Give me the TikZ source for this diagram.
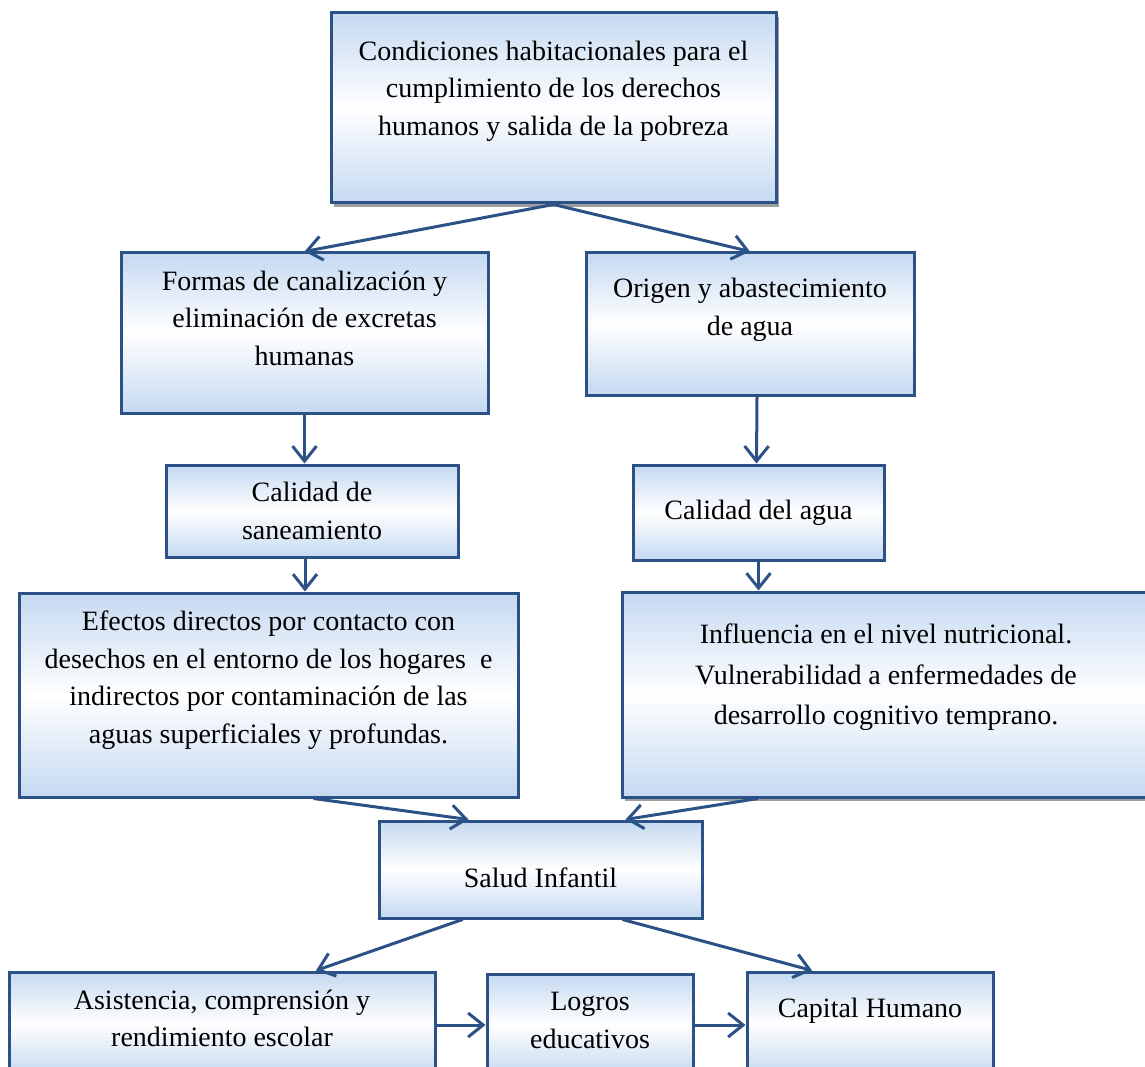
\documentclass[tikz,border=0pt]{standalone}
\usepackage{fontspec}
\setmainfont{Liberation Serif}
\usetikzlibrary{arrows.meta,shadows}
\definecolor{boxline}{HTML}{2C5186}
\definecolor{boxfill}{HTML}{C5D9F1}

\tikzset{
	box/.style={draw=boxline, line width=3pt, top color=boxfill, bottom color=boxfill, middle color=white, inner sep=0pt},
	boxshadow/.style={drop shadow={shadow xshift=3pt, shadow yshift=-4pt, fill=gray!75, opacity=1}},
	txt/.style={align=center, font=\fontsize{28}{37.5}\selectfont},
	link/.style={draw=boxline, line width=3pt, -{Straight Barb[length=15pt,width=24pt,line width=3pt]}},
}

\begin{document}
\begin{tikzpicture}[x=1pt, y=-1pt]
		%%%%% START %%%%%
		\useasboundingbox (0,0) rectangle (1145,1067);
		
		\node[box, boxshadow, minimum width=445pt, minimum height=190pt, label={[txt, yshift=17pt]center:{Condiciones habitacionales para el\\cumplimiento de los derechos\\humanos y salida de la pobreza}}] (cond) at (553.5,108) {};
		
		\node[box, minimum width=367pt, minimum height=160pt, label={[txt, yshift=15pt]center:{Formas de canalización y\\eliminación de excretas\\humanas}}] (formas) at (304.5,333) {};
		\node[box, minimum width=328pt, minimum height=142pt, label={[txt, yshift=14pt]center:{Origen y abastecimiento\\de agua}}] (origen) at (750,324) {};
		
		\node[box, minimum width=292pt, minimum height=92pt, label={[txt]center:{Calidad de\\saneamiento}}] (calsan) at (312,511) {};
		\node[box, minimum width=251pt, minimum height=95pt, label={[txt]center:{Calidad del agua}}] (calagua) at (758.5,512.5) {};
		
		\node[box, minimum width=499pt, minimum height=204pt, label={[txt, yshift=15pt]center:{Efectos directos por contacto con\\desechos en el entorno de los hogares~ e\\indirectos por contaminación de las\\aguas superficiales y profundas.}}] (efectos) at (268.5,695) {};
		\node[box, boxshadow, minimum width=528pt, minimum height=205pt, label={[txt, yshift=17pt, font=\fontsize{28}{40.5}\selectfont]center:{Influencia en el nivel nutricional.\\Vulnerabilidad a enfermedades de\\desarrollo cognitivo temprano.}}] (influ) at (886,694.5) {};
		
		\node[box, minimum width=323pt, minimum height=97pt, label={[txt, yshift=-8pt]center:{Salud Infantil}}] (salud) at (540.5,869.5) {};
		
		\node[box, minimum width=426pt, minimum height=103pt, label={[txt, yshift=5pt]center:{Asistencia, comprensión y\\rendimiento escolar}}] (asist) at (222,1023.5) {};
		\node[box, minimum width=206pt, minimum height=101pt, label={[txt, yshift=4pt]center:{Logros\\educativos}}] (logros) at (590,1024.5) {};
		\node[box, minimum width=246pt, minimum height=103pt, label={[txt, yshift=13pt]center:{Capital Humano}}] (capital) at (870,1023.5) {};
		
		\draw[link] (cond.south) -- (formas.north);
		\draw[link] (cond.south) -- (origen.north);
		
		\draw[link] (formas.south) -- (formas.south |- calsan.north);
		\draw[link] ([xshift=7pt]origen.south) -- ([xshift=-2pt]calagua.north);
		
		\draw[link] ([xshift=-7pt]calsan.south) -- ([xshift=-7pt]calsan.south |- efectos.north);
		\draw[link] (calagua.south) -- (calagua.south |- influ.north);
		
		\draw[link] ([xshift=45pt]efectos.south) -- ([xshift=-72pt]salud.north);
		\draw[link] ([xshift=-128pt]influ.south) -- ([xshift=85pt]salud.north);
		
		\draw[link] ([xshift=-78pt]salud.south) -- ([xshift=94pt]asist.north);
		\draw[link] ([xshift=82pt]salud.south) -- ([xshift=-58pt]capital.north);
		
		\draw[link] ([yshift=-1.5pt]asist.east) -- ([yshift=-1.5pt]asist.east -| logros.west);
		\draw[link] ([yshift=-1.5pt]asist.east -| logros.east) -- ([yshift=-1.5pt]asist.east -| capital.west);
		
		%%%%% END %%%%%
\end{tikzpicture}
\end{document}
